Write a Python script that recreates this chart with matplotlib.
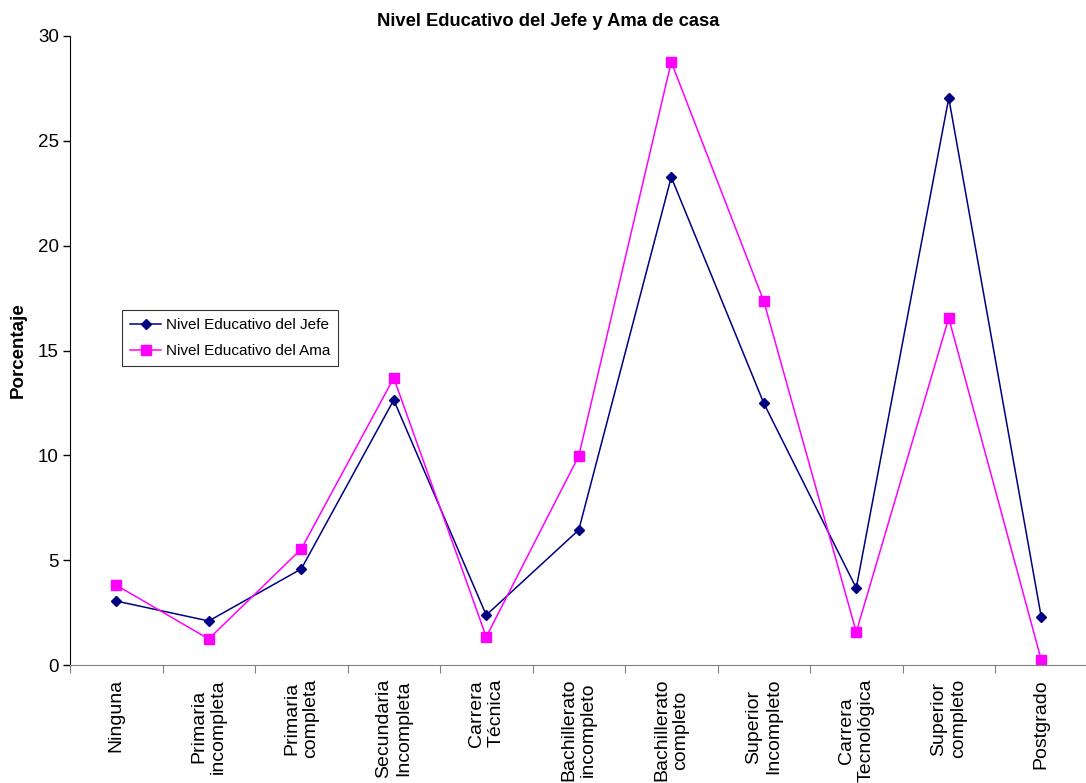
import matplotlib
matplotlib.use("Agg")
import matplotlib.pyplot as plt
import numpy as np

plt.rcParams['font.family'] = ['Liberation Sans', 'DejaVu Sans']

categories = ["Ninguna", "Primaria\nincompleta", "Primaria\ncompleta", "Secundaria\nIncompleta",
              "Carrera\nTécnica", "Bachillerato\nincompleto", "Bachillerato\ncompleto",
              "Superior\nIncompleto", "Carrera\nTecnológica", "Superior\ncompleto", "Postgrado"]
jefe = [3.05, 2.10, 4.58, 12.64, 2.38, 6.44, 23.27, 12.49, 3.67, 27.04, 2.29]
ama = [3.81, 1.24, 5.53, 13.69, 1.34, 9.97, 28.76, 17.36, 1.57, 16.55, 0.24]
yticks = [0, 5, 10, 15, 20, 25, 30]

fig = plt.figure(figsize=(10.86, 7.83), dpi=100)
ax = fig.add_axes([70/1086, 1-665/783, 1017.5/1086, (665-36)/783])

x = np.arange(len(categories))
ax.plot(x, jefe, color='#000080', marker='D', markersize=5.5, linewidth=1.1,
        label='Nivel Educativo del Jefe')
ax.plot(x, ama, color='#FF00FF', marker='s', markersize=6.5, linewidth=1.1,
        label='Nivel Educativo del Ama')

ax.set_xlim(-0.5, len(categories) - 0.5)
ax.set_ylim(0, 30)
ax.set_yticks(yticks)
ax.tick_params(axis='y', direction='out', length=5, labelsize=13.5, width=1, pad=3)

ax.set_xticks(np.arange(-0.5, len(categories), 1.0))
ax.set_xticklabels([])
ax.tick_params(axis='x', which='major', direction='out', length=6, color='#808080')
ax.set_xticks(x, minor=True)
ax.set_xticklabels(categories, minor=True, rotation=90, ha='center', va='top',
                   multialignment='center', fontsize=14)
ax.tick_params(axis='x', which='minor', length=0, pad=10)

for s in ['top', 'right']:
    ax.spines[s].set_visible(False)
ax.spines['bottom'].set_color('#808080')
ax.spines['left'].set_color('black')

ax.set_ylabel('Porcentaje', fontsize=13.5, fontweight='bold')
ax.yaxis.set_label_coords((27-70)/1017.5, (665-350)/629)

leg = ax.legend(loc='upper left', bbox_to_anchor=((122-70)/1017.5, (665-310)/629),
                fontsize=11, frameon=True, fancybox=False, edgecolor='black',
                handlelength=2.0, borderpad=0.55, labelspacing=0.75, handletextpad=0.3,
                borderaxespad=0)
leg.get_frame().set_linewidth(0.8)

fig.text(548/1086, 1-22/783, 'Nivel Educativo del Jefe y Ama de casa', ha='center', va='center',
         fontsize=13.2, fontweight='bold')

fig.savefig('out.png', dpi=100)
